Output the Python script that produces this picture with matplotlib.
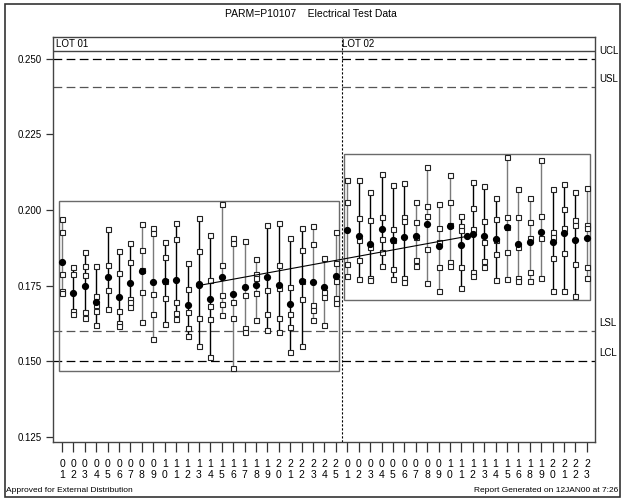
import matplotlib
matplotlib.use("Agg")
import matplotlib.pyplot as plt
from matplotlib.patches import Rectangle
import numpy as np

# ---------------- data ----------------
lot1_wafers = ['01', '02', '03', '04', '05', '06', '07', '08', '09', '10', '11', '12', '13',
               '14', '15', '16', '17', '18', '19', '20', '21', '22', '23', '24', '25']
lot2_wafers = ['01', '02', '03', '04', '05', '06', '07', '08', '09', '10', '11', '12', '13',
               '14', '15', '16', '18', '19', '20', '21', '22', '23']

lot1_sites = [
    [0.1970, 0.1928, 0.1787, 0.1733, 0.1724],
    [0.1813, 0.1788, 0.1666, 0.1655],
    [0.1862, 0.1816, 0.1785, 0.1662, 0.1644],
    [0.1816, 0.1717, 0.1686, 0.1666, 0.1620],
    [0.1936, 0.1818, 0.1735, 0.1672],
    [0.1864, 0.1791, 0.1666, 0.1625, 0.1618],
    [0.1890, 0.1829, 0.1706, 0.1695, 0.1680],
    [0.1954, 0.1868, 0.1802, 0.1730, 0.1629],
    [0.1939, 0.1923, 0.1721, 0.1655, 0.1573],
    [0.1895, 0.1846, 0.1765, 0.1708, 0.1623],
    [0.1958, 0.1903, 0.1695, 0.1658, 0.1640],
    [0.1826, 0.1739, 0.1664, 0.1611, 0.1584],
    [0.1972, 0.1864, 0.1644, 0.1551],
    [0.1917, 0.1769, 0.1683, 0.1640, 0.1515],
    [0.2019, 0.1818, 0.1719, 0.1688, 0.1653],
    [0.1909, 0.1890, 0.1695, 0.1644, 0.1479],
    [0.1899, 0.1719, 0.1609, 0.1596],
    [0.1838, 0.1788, 0.1776, 0.1727, 0.1638],
    [0.1950, 0.1735, 0.1656, 0.1603],
    [0.1956, 0.1818, 0.1741, 0.1644, 0.1596],
    [0.1909, 0.1744, 0.1655, 0.1614, 0.1529],
    [0.1942, 0.1868, 0.1765, 0.1706, 0.1550],
    [0.1947, 0.1887, 0.1686, 0.1669, 0.1636],
    [0.1840, 0.1728, 0.1713, 0.1620],
    [0.1926, 0.1826, 0.1765, 0.1708, 0.1691],
]
lot1_means = [0.1827, 0.1727, 0.1750, 0.1695, 0.1780, 0.1713, 0.1758, 0.1798, 0.1761,
              0.1765, 0.1769, 0.1686, 0.1754, 0.1706, 0.1780, 0.1722, 0.1744, 0.1752,
              0.1780, 0.1752, 0.1689, 0.1765, 0.1763, 0.1744, 0.1783]

lot2_sites = [
    [0.2099, 0.2025, 0.1820, 0.1783],
    [0.2099, 0.1975, 0.1901, 0.1835, 0.1771],
    [0.2061, 0.1967, 0.1879, 0.1774, 0.1769],
    [0.2119, 0.1978, 0.1904, 0.1862, 0.1816],
    [0.2083, 0.1936, 0.1901, 0.1805, 0.1771],
    [0.2090, 0.1976, 0.1964, 0.1774, 0.1763],
    [0.2028, 0.1961, 0.1912, 0.1835, 0.1816],
    [0.2141, 0.2014, 0.1981, 0.1871, 0.1760],
    [0.2020, 0.1942, 0.1895, 0.1813, 0.1733],
    [0.2116, 0.2028, 0.1950, 0.1827, 0.1816],
    [0.1981, 0.1947, 0.1934, 0.1813, 0.1743],
    [0.2092, 0.2006, 0.1936, 0.1796, 0.1783],
    [0.2079, 0.1964, 0.1895, 0.1832, 0.1813],
    [0.2039, 0.1969, 0.1901, 0.1853, 0.1769],
    [0.2174, 0.1976, 0.1945, 0.1860, 0.1771],
    [0.2068, 0.1976, 0.1879, 0.1776, 0.1765],
    [0.2039, 0.1959, 0.1909, 0.1796, 0.1765],
    [0.2165, 0.1981, 0.1909, 0.1774],
    [0.2068, 0.1926, 0.1912, 0.1842, 0.1733],
    [0.2085, 0.2002, 0.1942, 0.1857, 0.1733],
    [0.2058, 0.1967, 0.1950, 0.1821, 0.1716],
    [0.2072, 0.1950, 0.1939, 0.1810, 0.1774],
]
lot2_means = [0.1934, 0.1915, 0.1888, 0.1936, 0.1901, 0.1912, 0.1915, 0.1954, 0.1882,
              0.1947, 0.1884, 0.1921, 0.1915, 0.1903, 0.1945, 0.1888, 0.1893, 0.1926,
              0.1893, 0.1923, 0.1901, 0.1909]

lot_names = ['LOT 01', 'LOT 02']
ref_names = ['UCL', 'USL', 'LSL', 'LCL']
ref_values = [0.2500, 0.2408, 0.1600, 0.1500]
y_ticks = [0.125, 0.150, 0.175, 0.200, 0.225, 0.250]

title = 'PARM=P10107    Electrical Test Data'
footer_left = 'Approved for External Distribution'
footer_right = 'Report Generated on 12JAN00 at 7:26'

# ---------------- styling ----------------
GRAY = '#7a7a7a'
lot1_shade = 'gkkkkkkggkkkkkggggkkkkggg'
lot2_shade = 'gkkkkkggggkkkkggggkkkg'

W, H = 623, 500
plt.rcParams['font.family'] = ['Liberation Sans', 'DejaVu Sans']
fig = plt.figure(figsize=(W / 100, H / 100), dpi=100)
fig.patch.set_facecolor('white')

def fx(px):
    return px / W

def fy(py):
    return 1 - py / H

# outer frame
fig.patches.append(Rectangle((fx(5), fy(497)), fx(615), (497 - 4) / H, transform=fig.transFigure,
                             fill=False, edgecolor='#333333', linewidth=1.2))

ax = fig.add_axes([fx(53), fy(442), fx(542), (442 - 37) / H])
ax.set_xlim(-0.79, 46.71)
ax.set_ylim(0.1233, 0.2572)

for s in ax.spines.values():
    s.set_color('#444444')
    s.set_linewidth(1.0)

lots = [(lot1_sites, lot1_means, lot1_shade), (lot2_sites, lot2_means, lot2_shade)]
all_labels = lot1_wafers + lot2_wafers
offset = 0
lot_centers = []
lot_avgs = []
for li, (sites, means, shade) in enumerate(lots):
    n = len(sites)
    xs = np.arange(n) + offset
    allv = [v for s in sites for v in s]
    # lot box
    pad_x, pad_y = 0.25, 0.0012
    ax.add_patch(Rectangle((xs[0] - pad_x, min(allv) - pad_y), xs[-1] - xs[0] + 2 * pad_x,
                           max(allv) - min(allv) + 2 * pad_y, fill=False,
                           edgecolor='#6a6a6a', linewidth=1.0, zorder=2))
    for i, (x, s, m) in enumerate(zip(xs, sites, means)):
        c = GRAY if shade[i] == 'g' else 'black'
        ax.vlines(x, min(s), max(s), color=c, linewidth=1.0, zorder=3)
        ax.plot([x] * len(s), s, linestyle='none', marker='s', markersize=3.6,
                markerfacecolor='white', markeredgecolor='#222222', markeredgewidth=0.8, zorder=4)
        ax.plot(x, m, marker='o', markersize=4.2, color='black', linestyle='none', zorder=5)
    lot_centers.append((xs[0] + xs[-1]) / 2)
    lot_avgs.append(np.mean(means))
    ax.text(xs[0] - 0.6 + (0.05 if li == 0 else 0.15), 0.2549, lot_names[li], fontsize=7,
            va='center', ha='left')
    offset += n

# trend line between lot means
ax.plot(lot_centers, lot_avgs, color='black', linewidth=0.8, marker='o', markersize=4.2, zorder=6)

# lot separator
ax.axvline(len(lot1_sites) - 0.5, color='black', linestyle=(0, (2, 1.6)), linewidth=0.8, zorder=1)
# header line
ax.axhline(0.2526, color='#444444', linewidth=1.0, zorder=1)

# reference lines
ref_colors = ['black', '#555555', '#555555', 'black']
for name, val, c in zip(ref_names, ref_values, ref_colors):
    ax.axhline(val, color=c, linestyle=(0, (7, 3.5)), linewidth=0.9, zorder=1)
    ax.annotate(name, xy=(1.0, val), xycoords=('axes fraction', 'data'), xytext=(3, 2),
                textcoords='offset points', fontsize=7, ha='left', va='bottom',
                annotation_clip=False)

ax.set_yticks(y_ticks)
ax.set_yticklabels([f'{v:.3f}' for v in y_ticks])
ax.tick_params(axis='y', direction='out', length=5, width=0.9, labelsize=7, pad=3, color='#333333')

ax.set_xticks(np.arange(len(all_labels)))
ax.set_xticklabels(['\n'.join(l) for l in all_labels], linespacing=1.15)
ax.tick_params(axis='x', direction='out', length=7, width=0.9, labelsize=7.5, pad=5, color='#333333')

fig.text(fx(311), fy(14), title, fontsize=7.5, ha='center', va='center')
fig.text(fx(6), fy(490), footer_left, fontsize=6, ha='left', va='center')
fig.text(fx(618), fy(490), footer_right, fontsize=6, ha='right', va='center')

fig.savefig('out.png', dpi=100)
